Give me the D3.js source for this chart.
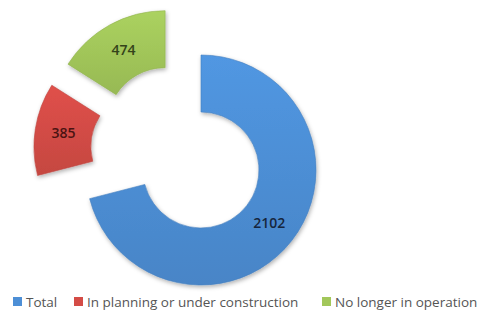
<!DOCTYPE html>
<html>
<head>
<meta charset="utf-8">
<script src="https://cdn.jsdelivr.net/npm/d3@7"></script>
<style>
  body { margin: 0; background: #fff; }
  svg { display: block; font-family: "Open Sans", sans-serif; }
</style>
</head>
<body>
<div id="wrapper"></div>
<script>
const categories = ["Total", "In planning or under construction", "No longer in operation"]
const values = [2102, 385, 474]
const colors = ["#4d8fd6", "#d44c46", "#a2c75a"]
const labelColors = ["#16263d", "#4a1312", "#34431a"]
// exploded slices: distance and direction (degrees clockwise from top)
const explode = [{d: 0, a: 0}, {d: 57, a: 294}, {d: 57, a: 321}]

const dimensions = {
    width: 478,
    height: 320,
    cx: 201,
    cy: 170,
    outer: 115,
    inner: 58
}

const svg = d3.select("#wrapper")
    .append("svg")
    .attr("width", dimensions.width)
    .attr("height", dimensions.height)

const defs = svg.append("defs")
const shadow = defs.append("filter").attr("id", "shadow")
    .attr("x", "-20%").attr("y", "-20%").attr("width", "140%").attr("height", "140%")
shadow.append("feDropShadow")
    .attr("dx", 1).attr("dy", 2).attr("stdDeviation", 2)
    .attr("flood-color", "#000").attr("flood-opacity", 0.3)

colors.forEach((c, i) => {
    const g = defs.append("linearGradient").attr("id", "grad" + i)
        .attr("x1", 0).attr("y1", 0).attr("x2", 0).attr("y2", 1)
    g.append("stop").attr("offset", "0%").attr("stop-color", d3.color(c).brighter(0.15))
    g.append("stop").attr("offset", "100%").attr("stop-color", d3.color(c).darker(0.2))
})

const data = categories.map((c, i) => ({ name: c, value: values[i], i }))

const pie = d3.pie()
    .value(d => d.value)
    .sort(null)

const arc = d3.arc()
    .innerRadius(dimensions.inner)
    .outerRadius(dimensions.outer)

const labelArc = d3.arc()
    .innerRadius((dimensions.inner + dimensions.outer) / 2)
    .outerRadius((dimensions.inner + dimensions.outer) / 2)

const bounds = svg.append("g")
    .attr("transform", `translate(${dimensions.cx}, ${dimensions.cy})`)

const slices = bounds.selectAll("g.slice")
    .data(pie(data))
    .join("g")
    .attr("class", "slice")
    .attr("transform", d => {
        const e = explode[d.data.i]
        const rad = e.a * Math.PI / 180
        return `translate(${e.d * Math.sin(rad)}, ${-e.d * Math.cos(rad)})`
    })

slices.append("path")
    .attr("d", arc)
    .attr("fill", d => `url(#grad${d.data.i})`)
    .attr("stroke", d => d3.color(colors[d.data.i]).darker(0.3))
    .attr("stroke-width", 0.6)
    .attr("filter", "url(#shadow)")

slices.append("text")
    .attr("transform", d => `translate(${labelArc.centroid(d)})`)
    .attr("text-anchor", "middle")
    .attr("dy", "0.35em")
    .attr("fill", d => labelColors[d.data.i])
    .style("font-size", "14px")
    .style("font-weight", 600)
    .text(d => d.data.value)

// legend
const legend = svg.append("g")
    .attr("transform", "translate(0, 302)")

const legendX = [13, 74, 322]
const items = legend.selectAll("g")
    .data(data)
    .join("g")
    .attr("transform", d => `translate(${legendX[d.i]}, 0)`)

items.append("rect")
    .attr("x", 0)
    .attr("y", -5)
    .attr("width", 9)
    .attr("height", 9)
    .attr("fill", d => colors[d.i])

items.append("text")
    .attr("x", 13)
    .attr("dy", "0.35em")
    .attr("fill", "#555")
    .style("font-size", "13.5px")
    .text(d => d.name)
</script>
</body>
</html>
